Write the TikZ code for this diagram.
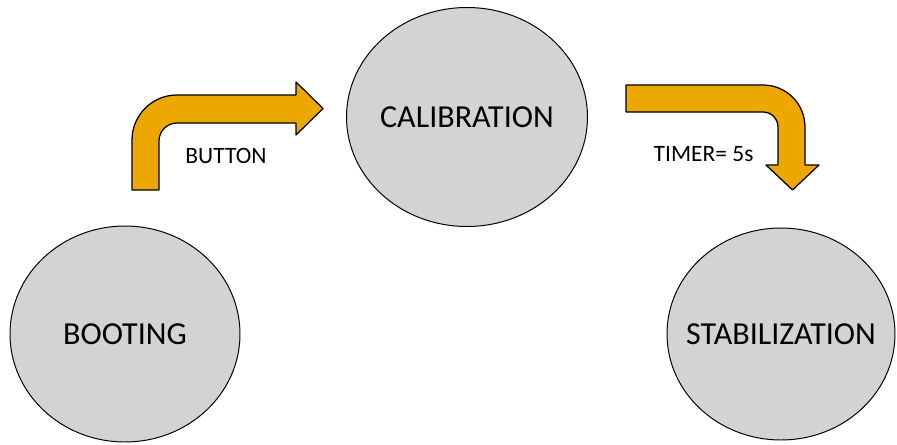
\documentclass[tikz,border=0pt]{standalone}
\usepackage{fontspec}
\setmainfont{Carlito}
\usetikzlibrary{shapes.geometric}

\definecolor{stategray}{RGB}{211,211,211}
\definecolor{arrowgold}{RGB}{236,167,0}

\tikzset{
  state/.style={ellipse, draw=black, line width=0.7pt, fill=stategray,
    inner xsep=-2cm, inner ysep=0pt,
    font=\fontsize{22.8}{27}\selectfont},
  blockarrow/.style={draw=black, line width=0.9pt, fill=arrowgold, line join=round},
  trigger/.style={font=\fontsize{16.7}{20}\selectfont}
}

\begin{document}
\begin{tikzpicture}
  \useasboundingbox (0,0) rectangle (22.425,11.1);

  % states
  \node[state, minimum width=5.75cm, minimum height=5.4cm] (booting) at (3.125,2.75) {BOOTING};
  \node[state, minimum width=6.025cm, minimum height=5.475cm] (calibration) at (11.675,8.175) {CALIBRATION};
  \node[state, minimum width=5.7cm, minimum height=5.3cm] (stabilization) at (19.525,2.75) {STABILIZATION};

  % ends of the bent arrows
  \coordinate (b2c tail) at (3.6375,6.35);
  \coordinate (c2s tail) at (15.65,8.6375);

  % booting -> calibration
  \draw[blockarrow] ([xshift=-0.3375cm]b2c tail) -- ++(0,1.25)
    arc[start angle=180, end angle=90, radius=1.125] -- ++(2.975,0)
    -- ++(0,0.325) -- ++(0.675,-0.6625) -- ++(-0.675,-0.6625) -- ++(0,0.3)
    -- ++(-2.975,0) arc[start angle=90, end angle=180, radius=0.45]
    -- ++(0,-1.225) -- cycle;
  \node[trigger] (button) at (5.65,7.2) {BUTTON};

  % calibration -> stabilization
  \draw[blockarrow] ([yshift=0.3375cm]c2s tail) -- ++(3.425,0)
    arc[start angle=90, end angle=0, radius=1.05] -- ++(0,-0.95)
    -- ++(0.35,0) -- ++(-0.6625,-0.625) -- ++(-0.6625,0.625) -- ++(0.3,0)
    -- ++(0,0.95) arc[start angle=0, end angle=90, radius=0.375]
    -- ++(-3.425,0) -- cycle;
  \node[trigger] (timer) at (17.59,7.25) {TIMER= 5s};
\end{tikzpicture}
\end{document}
